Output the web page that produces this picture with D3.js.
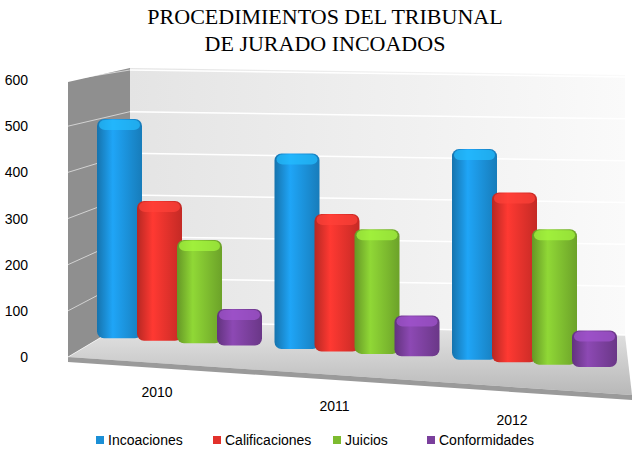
<!DOCTYPE html><html><head><meta charset="utf-8"><script src="https://cdn.jsdelivr.net/npm/d3@7"></script>
<style>body{margin:0;background:#fff}</style></head><body><svg id="c" width="638" height="453"></svg><script>
const years=["2010","2011","2012"];
const series=["Incoaciones","Calificaciones","Juicios","Conformidades"];
const incoaciones=[510,455,490];
const calificaciones=[325,320,395];
const juicios=[240,290,315];
const conformidades=[85,95,85];
const yTicks=[0,100,200,300,400,500,600];
const colors=["#1b8fd6","#e2312b","#7dbb2f","#7a3f9c"];
const data=[incoaciones,calificaciones,juicios,conformidades];
const svg=d3.select("#c");
const defs=svg.append("defs");
// title
svg.append("text").attr("x",325).attr("y",24).attr("text-anchor","middle").attr("font-family","Liberation Serif").attr("font-size",22).text("PROCEDIMIENTOS DEL TRIBUNAL");
svg.append("text").attr("x",325).attr("y",51).attr("text-anchor","middle").attr("font-family","Liberation Serif").attr("font-size",22).text("DE JURADO INCOADOS");
// walls
const wg=defs.append("linearGradient").attr("id","wg").attr("x1",0).attr("x2",1);
wg.append("stop").attr("offset",0).attr("stop-color","#e4e4e4");wg.append("stop").attr("offset",1).attr("stop-color","#fafafa");
svg.append("polygon").attr("points","130,68 625,75 625,335 130,320").attr("fill","url(#wg)");
svg.append("polygon").attr("points","68,82 130,68 130,320 68,357").attr("fill","#8f8f8f");
const fg=defs.append("linearGradient").attr("id","fg").attr("x1",0).attr("x2",0).attr("y1",0).attr("y2",1);
fg.append("stop").attr("offset",0).attr("stop-color","#e8e8e8");fg.append("stop").attr("offset",1).attr("stop-color","#b8b8b8");
svg.append("polygon").attr("points","68,357 130,320 625,335 632,395").attr("fill","url(#fg)");
svg.append("polygon").attr("points","68,357 632,395 632,400 68,362").attr("fill","#9a9a9a");
// y scale (axis labels)
const y=d3.scaleLinear().domain([0,600]).range([357,80]);
const yb=d3.scaleLinear().domain([0,600]).range([320,70]);
yTicks.forEach(t=>{
  svg.append("line").attr("x1",68).attr("y1",y(t)).attr("x2",130).attr("y2",yb(t)).attr("stroke","#fff").attr("stroke-opacity",0.6);
  svg.append("line").attr("x1",130).attr("y1",yb(t)).attr("x2",625).attr("y2",yb(t)+ (t===0?15:8)*(1-t/600)+ (t/600)*7).attr("stroke","#fff").attr("stroke-width",1.5);
  svg.append("text").attr("x",28).attr("y",y(t)+5).attr("text-anchor","end").attr("font-family","Liberation Sans").attr("font-size",14).text(t);
});
// bars
const gx=d3.scaleLinear().domain([0,2]).range([97,452]);
const base=d3.scaleLinear().domain([97,610]).range([337,368]);
const h=d3.scaleLinear().domain([0,100]).range([0,43]);
colors.forEach((c,i)=>{
  const g=defs.append("linearGradient").attr("id","b"+i).attr("x1",0).attr("x2",1);
  g.append("stop").attr("offset",0).attr("stop-color",d3.color(c).darker(0.6));
  g.append("stop").attr("offset",0.35).attr("stop-color",d3.color(c).brighter(0.4));
  g.append("stop").attr("offset",1).attr("stop-color",d3.color(c).darker(0.4));
});
years.forEach((yr,gi)=>{
  series.forEach((s,si)=>{
    const x0=gx(gi)+si*40, w=45;
    const b=base(x0+w/2), top=b-h(data[si][gi]);
    svg.append("rect").attr("x",x0).attr("y",top).attr("width",w).attr("height",b-top).attr("rx",7).attr("fill","url(#b"+si+")");
    svg.append("rect").attr("x",x0+2).attr("y",top+1).attr("width",w-4).attr("height",10).attr("rx",6).attr("fill",d3.color(colors[si]).brighter(0.8)).attr("opacity",0.7);
  });
  svg.append("text").attr("x",gx(gi)+60).attr("y",397+gi*14).attr("text-anchor","middle").attr("font-family","Liberation Sans").attr("font-size",14).text(yr);
});
// legend
const lx=[96,213,333,427];
series.forEach((s,i)=>{
  svg.append("rect").attr("x",lx[i]).attr("y",436).attr("width",8).attr("height",8).attr("fill",colors[i]);
  svg.append("text").attr("x",lx[i]+12).attr("y",445).attr("font-family","Liberation Sans").attr("font-size",14).text(s);
});
</script></body></html>
